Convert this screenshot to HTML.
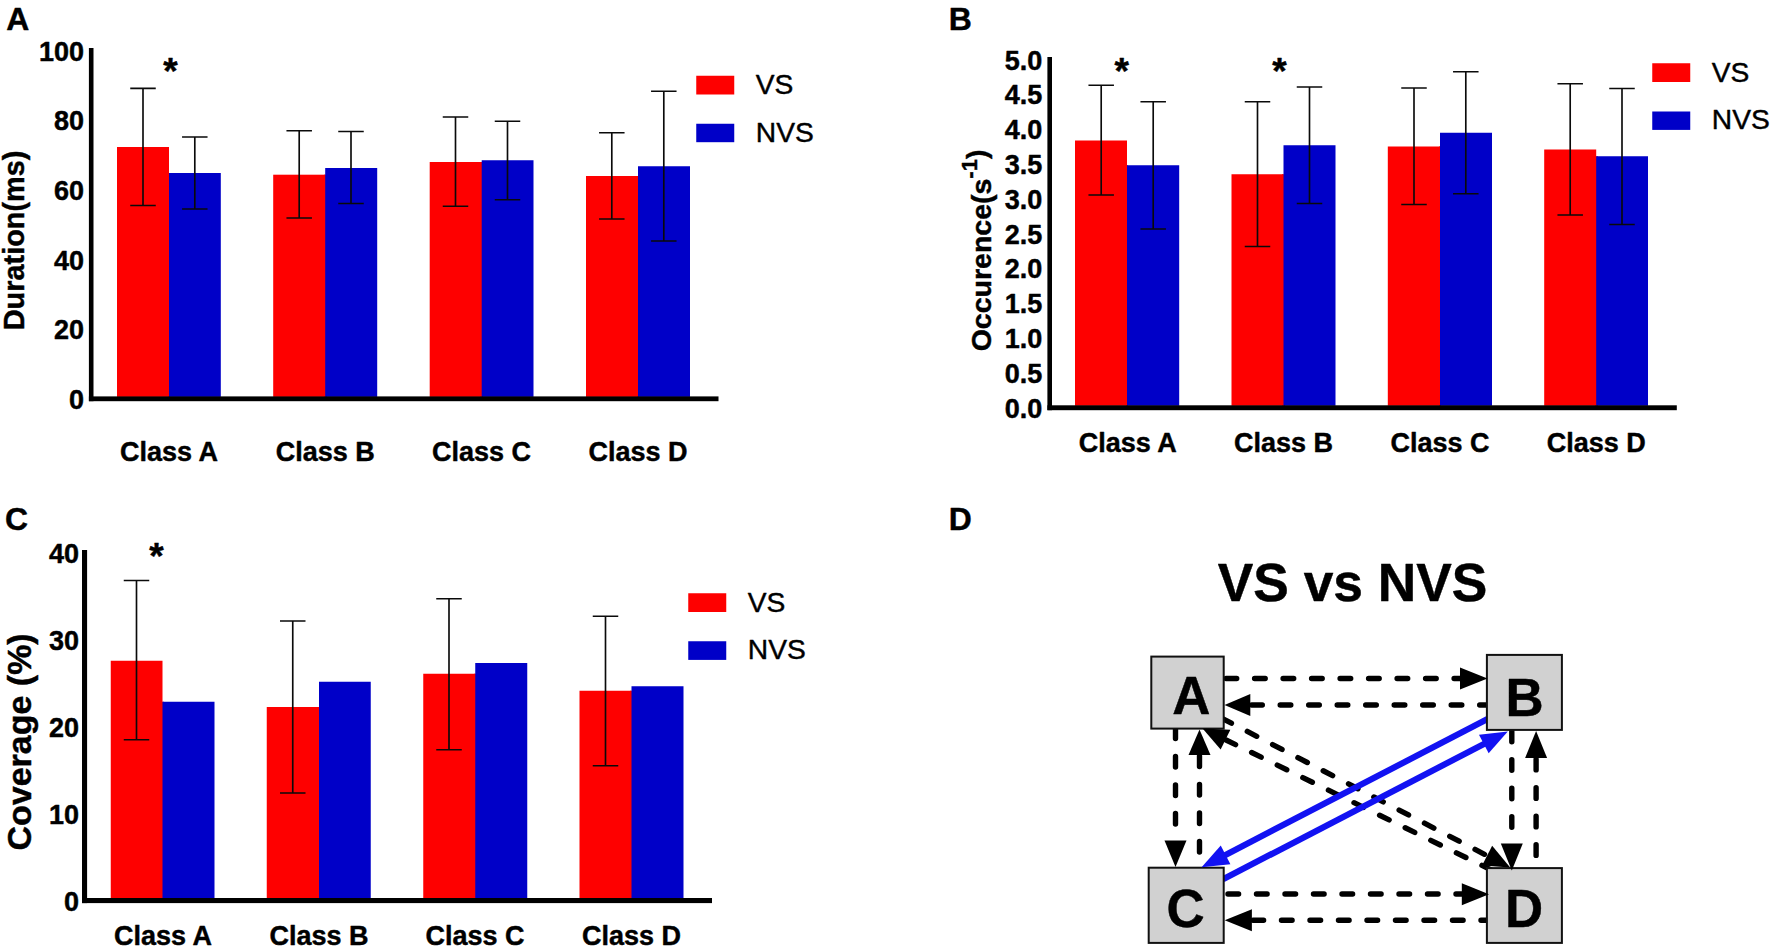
<!DOCTYPE html>
<html lang="en"><head><meta charset="utf-8"><title>Figure</title>
<style>
html,body{margin:0;padding:0;background:#fff;}
body{width:1772px;height:950px;overflow:hidden;}
svg{display:block;}
svg text{font-family:"Liberation Sans",Arial,sans-serif;fill:#000;stroke:#000;stroke-width:0.45px;stroke-linejoin:round;}
</style></head><body>
<svg width="1772" height="950" viewBox="0 0 1772 950">
<rect width="1772" height="950" fill="#fff"/>
<rect x="117.00" y="147.00" width="52.00" height="249.90" fill="#fe0000" />
<rect x="168.00" y="173.00" width="2.00" height="223.90" fill="#fe0000" />
<rect x="169.00" y="173.00" width="51.80" height="223.90" fill="#0000c8" />
<rect x="273.20" y="174.70" width="52.00" height="222.20" fill="#fe0000" />
<rect x="324.00" y="174.70" width="3.00" height="222.20" fill="#fe0000" />
<rect x="325.20" y="168.00" width="52.00" height="228.90" fill="#0000c8" />
<rect x="429.70" y="162.00" width="52.00" height="234.90" fill="#fe0000" />
<rect x="480.00" y="162.00" width="3.00" height="234.90" fill="#fe0000" />
<rect x="481.70" y="160.25" width="51.80" height="236.65" fill="#0000c8" />
<rect x="586.00" y="176.00" width="52.00" height="220.90" fill="#fe0000" />
<rect x="637.00" y="176.00" width="2.00" height="220.90" fill="#fe0000" />
<rect x="638.00" y="166.25" width="52.00" height="230.65" fill="#0000c8" />
<rect x="88.90" y="48.00" width="4.60" height="353.20" fill="#000" />
<rect x="88.90" y="396.40" width="629.60" height="4.80" fill="#000" />
<path d="M130.25 88.30H155.75M130.25 205.50H155.75M143.00 88.30V205.50" stroke="#0a0a0a" stroke-width="1.65" fill="none"/>
<path d="M182.05 137.00H207.55M182.05 209.00H207.55M194.80 137.00V209.00" stroke="#0a0a0a" stroke-width="1.65" fill="none"/>
<path d="M286.45 130.70H311.95M286.45 218.00H311.95M299.20 130.70V218.00" stroke="#0a0a0a" stroke-width="1.65" fill="none"/>
<path d="M338.25 131.50H363.75M338.25 203.50H363.75M351.00 131.50V203.50" stroke="#0a0a0a" stroke-width="1.65" fill="none"/>
<path d="M442.75 117.00H468.25M442.75 206.25H468.25M455.50 117.00V206.25" stroke="#0a0a0a" stroke-width="1.65" fill="none"/>
<path d="M494.75 121.25H520.25M494.75 199.75H520.25M507.50 121.25V199.75" stroke="#0a0a0a" stroke-width="1.65" fill="none"/>
<path d="M599.05 132.75H624.55M599.05 219.00H624.55M611.80 132.75V219.00" stroke="#0a0a0a" stroke-width="1.65" fill="none"/>
<path d="M651.05 91.25H676.55M651.05 241.00H676.55M663.80 91.25V241.00" stroke="#0a0a0a" stroke-width="1.65" fill="none"/>
<text x="84.00" y="408.87" font-size="27" font-weight="bold" text-anchor="end" >0</text>
<text x="84.00" y="339.22" font-size="27" font-weight="bold" text-anchor="end" >20</text>
<text x="84.00" y="269.57" font-size="27" font-weight="bold" text-anchor="end" >40</text>
<text x="84.00" y="199.92" font-size="27" font-weight="bold" text-anchor="end" >60</text>
<text x="84.00" y="130.27" font-size="27" font-weight="bold" text-anchor="end" >80</text>
<text x="84.00" y="60.62" font-size="27" font-weight="bold" text-anchor="end" >100</text>
<text x="169.00" y="461.20" font-size="27" font-weight="bold" text-anchor="middle" >Class A</text>
<text x="325.30" y="461.20" font-size="27" font-weight="bold" text-anchor="middle" >Class B</text>
<text x="481.60" y="461.20" font-size="27" font-weight="bold" text-anchor="middle" >Class C</text>
<text x="638.00" y="461.20" font-size="27" font-weight="bold" text-anchor="middle" >Class D</text>
<text x="170.50" y="83.60" font-size="37" font-weight="bold" text-anchor="middle" >*</text>
<rect x="696.25" y="75.75" width="38.00" height="18.75" fill="#fe0000" />
<rect x="696.25" y="123.75" width="38.00" height="18.45" fill="#0000c8" />
<text x="755.80" y="94.00" font-size="28.2" font-weight="normal" text-anchor="start" >VS</text>
<text x="755.80" y="141.80" font-size="28.2" font-weight="normal" text-anchor="start" >NVS</text>
<rect x="1075.00" y="140.50" width="52.00" height="265.30" fill="#fe0000" />
<rect x="1126.00" y="165.25" width="2.00" height="240.55" fill="#fe0000" />
<rect x="1127.00" y="165.25" width="52.20" height="240.55" fill="#0000c8" />
<rect x="1231.50" y="174.25" width="52.00" height="231.55" fill="#fe0000" />
<rect x="1282.00" y="174.25" width="3.00" height="231.55" fill="#fe0000" />
<rect x="1283.50" y="145.25" width="52.00" height="260.55" fill="#0000c8" />
<rect x="1387.80" y="146.50" width="52.20" height="259.30" fill="#fe0000" />
<rect x="1439.00" y="146.50" width="2.00" height="259.30" fill="#fe0000" />
<rect x="1440.00" y="132.75" width="52.00" height="273.05" fill="#0000c8" />
<rect x="1544.20" y="149.50" width="52.00" height="256.30" fill="#fe0000" />
<rect x="1595.00" y="156.25" width="3.00" height="249.55" fill="#fe0000" />
<rect x="1596.20" y="156.25" width="51.80" height="249.55" fill="#0000c8" />
<rect x="1047.40" y="57.00" width="4.60" height="353.20" fill="#000" />
<rect x="1047.40" y="405.30" width="629.40" height="4.90" fill="#000" />
<path d="M1088.45 85.25H1113.95M1088.45 195.00H1113.95M1101.20 85.25V195.00" stroke="#0a0a0a" stroke-width="1.65" fill="none"/>
<path d="M1140.45 101.75H1165.95M1140.45 229.00H1165.95M1153.20 101.75V229.00" stroke="#0a0a0a" stroke-width="1.65" fill="none"/>
<path d="M1244.75 101.75H1270.25M1244.75 246.50H1270.25M1257.50 101.75V246.50" stroke="#0a0a0a" stroke-width="1.65" fill="none"/>
<path d="M1296.75 87.00H1322.25M1296.75 203.50H1322.25M1309.50 87.00V203.50" stroke="#0a0a0a" stroke-width="1.65" fill="none"/>
<path d="M1401.25 88.00H1426.75M1401.25 204.50H1426.75M1414.00 88.00V204.50" stroke="#0a0a0a" stroke-width="1.65" fill="none"/>
<path d="M1453.05 71.75H1478.55M1453.05 193.75H1478.55M1465.80 71.75V193.75" stroke="#0a0a0a" stroke-width="1.65" fill="none"/>
<path d="M1557.45 83.75H1582.95M1557.45 215.00H1582.95M1570.20 83.75V215.00" stroke="#0a0a0a" stroke-width="1.65" fill="none"/>
<path d="M1609.25 88.50H1634.75M1609.25 224.50H1634.75M1622.00 88.50V224.50" stroke="#0a0a0a" stroke-width="1.65" fill="none"/>
<text x="1042.30" y="417.62" font-size="27" font-weight="bold" text-anchor="end" >0.0</text>
<text x="1042.30" y="382.82" font-size="27" font-weight="bold" text-anchor="end" >0.5</text>
<text x="1042.30" y="348.02" font-size="27" font-weight="bold" text-anchor="end" >1.0</text>
<text x="1042.30" y="313.22" font-size="27" font-weight="bold" text-anchor="end" >1.5</text>
<text x="1042.30" y="278.42" font-size="27" font-weight="bold" text-anchor="end" >2.0</text>
<text x="1042.30" y="243.62" font-size="27" font-weight="bold" text-anchor="end" >2.5</text>
<text x="1042.30" y="208.82" font-size="27" font-weight="bold" text-anchor="end" >3.0</text>
<text x="1042.30" y="174.02" font-size="27" font-weight="bold" text-anchor="end" >3.5</text>
<text x="1042.30" y="139.22" font-size="27" font-weight="bold" text-anchor="end" >4.0</text>
<text x="1042.30" y="104.42" font-size="27" font-weight="bold" text-anchor="end" >4.5</text>
<text x="1042.30" y="69.62" font-size="27" font-weight="bold" text-anchor="end" >5.0</text>
<text x="1127.75" y="452.30" font-size="27" font-weight="bold" text-anchor="middle" >Class A</text>
<text x="1283.60" y="452.30" font-size="27" font-weight="bold" text-anchor="middle" >Class B</text>
<text x="1440.00" y="452.30" font-size="27" font-weight="bold" text-anchor="middle" >Class C</text>
<text x="1596.25" y="452.30" font-size="27" font-weight="bold" text-anchor="middle" >Class D</text>
<text x="1121.60" y="83.90" font-size="37" font-weight="bold" text-anchor="middle" >*</text>
<text x="1279.40" y="83.90" font-size="37" font-weight="bold" text-anchor="middle" >*</text>
<rect x="1652.25" y="63.25" width="38.00" height="18.75" fill="#fe0000" />
<rect x="1652.25" y="111.50" width="38.00" height="18.40" fill="#0000c8" />
<text x="1711.80" y="81.50" font-size="28.2" font-weight="normal" text-anchor="start" >VS</text>
<text x="1711.80" y="129.30" font-size="28.2" font-weight="normal" text-anchor="start" >NVS</text>
<rect x="110.75" y="660.75" width="51.75" height="237.75" fill="#fe0000" />
<rect x="161.00" y="701.75" width="3.00" height="196.75" fill="#fe0000" />
<rect x="162.50" y="701.75" width="52.00" height="196.75" fill="#0000c8" />
<rect x="266.75" y="707.00" width="52.25" height="191.50" fill="#fe0000" />
<rect x="318.00" y="707.00" width="2.00" height="191.50" fill="#fe0000" />
<rect x="319.00" y="681.75" width="51.75" height="216.75" fill="#0000c8" />
<rect x="423.25" y="673.75" width="52.00" height="224.75" fill="#fe0000" />
<rect x="474.00" y="673.75" width="3.00" height="224.75" fill="#fe0000" />
<rect x="475.25" y="663.00" width="52.00" height="235.50" fill="#0000c8" />
<rect x="579.50" y="690.75" width="52.00" height="207.75" fill="#fe0000" />
<rect x="630.00" y="690.75" width="3.00" height="207.75" fill="#fe0000" />
<rect x="631.50" y="686.25" width="52.00" height="212.25" fill="#0000c8" />
<rect x="82.00" y="550.00" width="5.10" height="353.10" fill="#000" />
<rect x="82.00" y="898.00" width="630.00" height="5.10" fill="#000" />
<path d="M123.75 580.50H149.25M123.75 739.75H149.25M136.50 580.50V739.75" stroke="#0a0a0a" stroke-width="1.65" fill="none"/>
<path d="M280.00 621.00H305.50M280.00 793.00H305.50M292.75 621.00V793.00" stroke="#0a0a0a" stroke-width="1.65" fill="none"/>
<path d="M436.25 598.75H461.75M436.25 749.75H461.75M449.00 598.75V749.75" stroke="#0a0a0a" stroke-width="1.65" fill="none"/>
<path d="M592.75 616.25H618.25M592.75 765.75H618.25M605.50 616.25V765.75" stroke="#0a0a0a" stroke-width="1.65" fill="none"/>
<text x="79.00" y="910.52" font-size="27" font-weight="bold" text-anchor="end" >0</text>
<text x="79.00" y="823.52" font-size="27" font-weight="bold" text-anchor="end" >10</text>
<text x="79.00" y="736.52" font-size="27" font-weight="bold" text-anchor="end" >20</text>
<text x="79.00" y="649.52" font-size="27" font-weight="bold" text-anchor="end" >30</text>
<text x="79.00" y="562.52" font-size="27" font-weight="bold" text-anchor="end" >40</text>
<text x="163.00" y="945.10" font-size="27" font-weight="bold" text-anchor="middle" >Class A</text>
<text x="319.00" y="945.10" font-size="27" font-weight="bold" text-anchor="middle" >Class B</text>
<text x="475.10" y="945.10" font-size="27" font-weight="bold" text-anchor="middle" >Class C</text>
<text x="631.60" y="945.10" font-size="27" font-weight="bold" text-anchor="middle" >Class D</text>
<text x="156.50" y="569.30" font-size="37" font-weight="bold" text-anchor="middle" >*</text>
<rect x="688.25" y="593.25" width="38.00" height="18.75" fill="#fe0000" />
<rect x="688.25" y="641.25" width="38.00" height="18.65" fill="#0000c8" />
<text x="747.80" y="611.50" font-size="28.2" font-weight="normal" text-anchor="start" >VS</text>
<text x="747.80" y="659.30" font-size="28.2" font-weight="normal" text-anchor="start" >NVS</text>
<text transform="translate(24.3 330.3) rotate(-90)" font-size="28.9" font-weight="bold">Duration(ms)</text>
<text transform="translate(990.5 351.3) rotate(-90)" font-size="28.5" font-weight="bold">Occurence(s<tspan font-size="22" dy="-14">-1</tspan><tspan dy="9">)</tspan></text>
<text transform="translate(31 850.6) rotate(-90)" font-size="34" font-weight="bold">Coverage (%)</text>
<text x="6.20" y="29.50" font-size="31.9" font-weight="bold" text-anchor="start" >A</text>
<text x="948.80" y="29.50" font-size="31.9" font-weight="bold" text-anchor="start" >B</text>
<text x="5.00" y="529.80" font-size="31.9" font-weight="bold" text-anchor="start" >C</text>
<text x="948.80" y="529.70" font-size="31.9" font-weight="bold" text-anchor="start" >D</text>
<text x="1352.60" y="601.20" font-size="53.3" font-weight="bold" text-anchor="middle" >VS vs NVS</text>
<line x1="1226.10" y1="678.50" x2="1463.00" y2="678.50" stroke="#000" stroke-width="5.4" stroke-dasharray="10.6 17.9" stroke-linecap="round" stroke-dashoffset="0"/>
<line x1="1490.30" y1="705.00" x2="1248.00" y2="705.00" stroke="#000" stroke-width="5.4" stroke-dasharray="10.6 17.9" stroke-linecap="round" stroke-dashoffset="0"/>
<line x1="1228.00" y1="894.00" x2="1464.00" y2="894.00" stroke="#000" stroke-width="5.4" stroke-dasharray="10.6 17.9" stroke-linecap="round" stroke-dashoffset="0"/>
<line x1="1491.60" y1="920.30" x2="1250.00" y2="920.30" stroke="#000" stroke-width="5.4" stroke-dasharray="10.6 17.9" stroke-linecap="round" stroke-dashoffset="0"/>
<line x1="1175.50" y1="728.00" x2="1175.50" y2="838.00" stroke="#000" stroke-width="5.4" stroke-dasharray="10.6 17.9" stroke-linecap="round" stroke-dashoffset="0"/>
<line x1="1199.50" y1="852.00" x2="1199.50" y2="753.00" stroke="#000" stroke-width="5.4" stroke-dasharray="10.6 17.9" stroke-linecap="round" stroke-dashoffset="0"/>
<line x1="1511.80" y1="731.20" x2="1511.80" y2="843.00" stroke="#000" stroke-width="5.4" stroke-dasharray="10.6 17.9" stroke-linecap="round" stroke-dashoffset="0"/>
<line x1="1536.10" y1="855.40" x2="1536.10" y2="757.00" stroke="#000" stroke-width="5.4" stroke-dasharray="10.6 17.9" stroke-linecap="round" stroke-dashoffset="0"/>
<line x1="1222.00" y1="718.31" x2="1488.89" y2="856.56" stroke="#000" stroke-width="5.4" stroke-dasharray="10.6 17.9" stroke-linecap="round" stroke-dashoffset="0"/>
<line x1="1491.50" y1="870.06" x2="1223.25" y2="738.62" stroke="#000" stroke-width="5.4" stroke-dasharray="10.6 17.9" stroke-linecap="round" stroke-dashoffset="0"/>
<line x1="1488.00" y1="718.80" x2="1221.13" y2="857.17" stroke="#1212f2" stroke-width="6.2" />
<line x1="1223.00" y1="879.27" x2="1488.27" y2="741.73" stroke="#1212f2" stroke-width="6.2" />
<rect x="1151.30" y="656.60" width="72.40" height="72.00" fill="#d1d1d1" stroke="#111" stroke-width="2"/>
<text x="1191.20" y="713.50" font-size="52.8" font-weight="bold" text-anchor="middle" >A</text>
<rect x="1486.90" y="654.90" width="75.00" height="75.00" fill="#d1d1d1" stroke="#111" stroke-width="2"/>
<text x="1524.50" y="715.60" font-size="52.8" font-weight="bold" text-anchor="middle" >B</text>
<rect x="1148.70" y="867.70" width="75.00" height="75.20" fill="#d1d1d1" stroke="#111" stroke-width="2"/>
<text x="1185.50" y="927.20" font-size="52.8" font-weight="bold" text-anchor="middle" >C</text>
<rect x="1486.90" y="868.10" width="75.00" height="74.80" fill="#d1d1d1" stroke="#111" stroke-width="2"/>
<text x="1524.00" y="927.10" font-size="52.8" font-weight="bold" text-anchor="middle" >D</text>
<polygon points="1487.50,678.50 1460.00,689.50 1460.00,667.50" fill="#000"/>
<polygon points="1224.50,705.00 1250.30,694.00 1250.30,716.00" fill="#000"/>
<polygon points="1489.00,894.20 1461.80,905.20 1461.80,883.20" fill="#000"/>
<polygon points="1224.70,920.30 1251.90,909.30 1251.90,931.30" fill="#000"/>
<polygon points="1175.50,867.00 1164.50,840.40 1186.50,840.40" fill="#000"/>
<polygon points="1199.50,729.40 1210.50,755.00 1188.50,755.00" fill="#000"/>
<polygon points="1511.80,870.40 1500.80,843.40 1522.80,843.40" fill="#000"/>
<polygon points="1536.10,730.90 1547.10,757.90 1525.10,757.90" fill="#000"/>
<polygon points="1510.20,867.60 1482.05,865.41 1492.17,845.87" fill="#000"/>
<polygon points="1202.60,728.50 1230.34,729.84 1220.66,749.60" fill="#000"/>
<polygon points="1201.60,867.30 1220.74,845.55 1230.40,864.19" fill="#1212f2"/>
<polygon points="1507.80,731.60 1488.66,753.35 1479.00,734.71" fill="#1212f2"/>
</svg>
</body></html>
